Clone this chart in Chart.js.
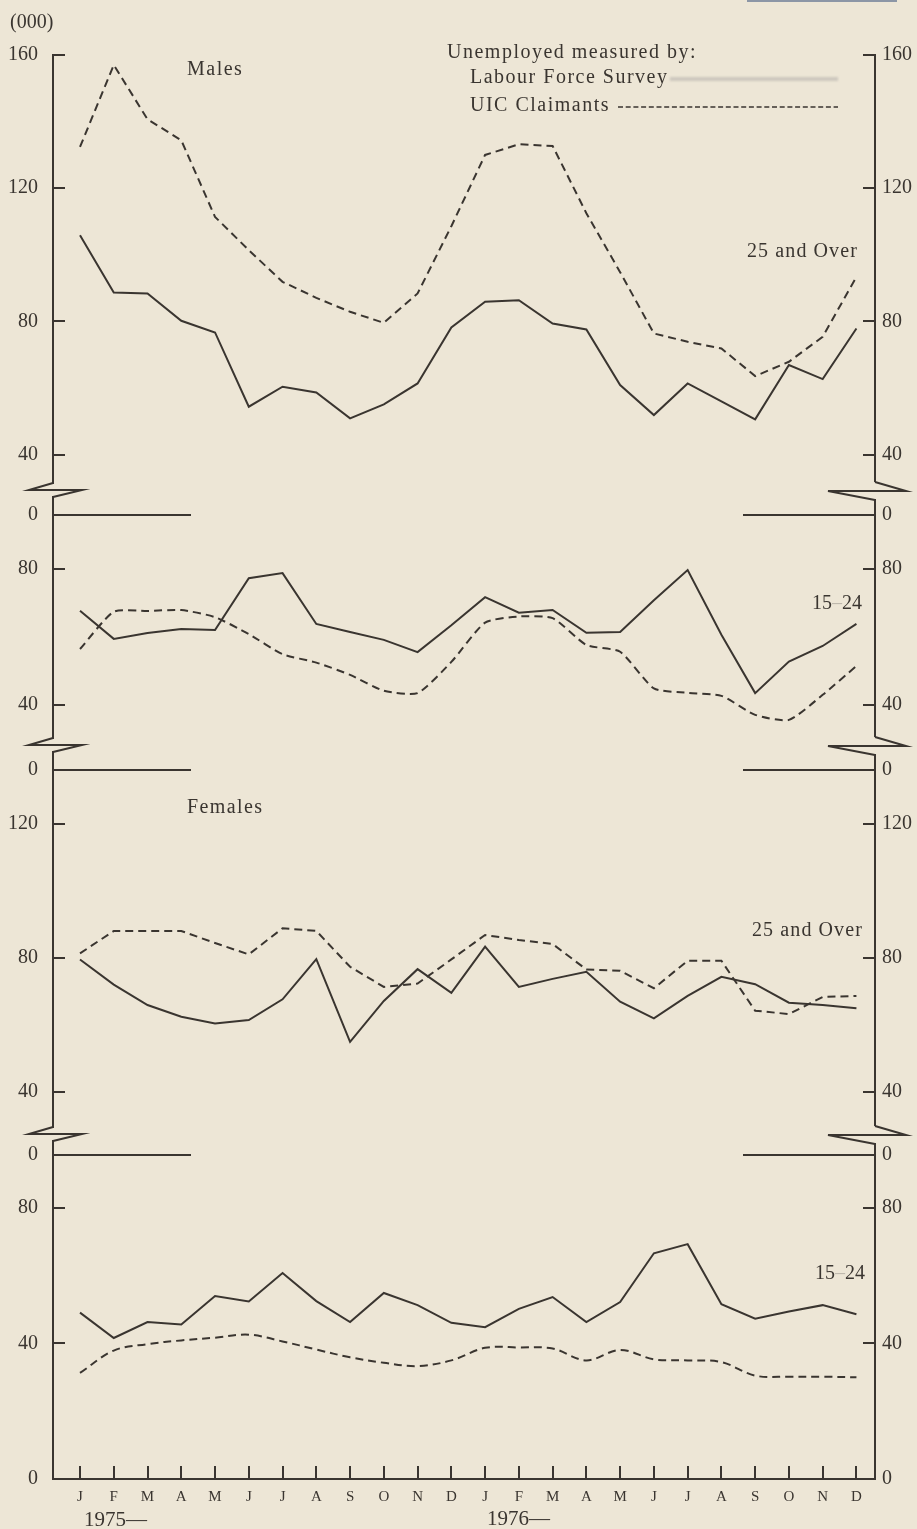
<!DOCTYPE html>
<html><head><meta charset="utf-8">
<script src="https://cdn.jsdelivr.net/npm/chart.js@4.4.1/dist/chart.umd.min.js"></script>
<style>
html,body{margin:0;padding:0;background:#ede6d6;}
#wrap{position:relative;width:917px;height:1529px;overflow:hidden;background:#ede6d6;}
canvas{position:absolute;left:0;top:0;}
.t{position:absolute;font-family:"Liberation Serif","DejaVu Serif",serif;color:#3a3530;font-size:20px;line-height:1;white-space:nowrap;}
</style></head><body>
<div id="wrap">
<canvas id="c" width="917" height="1529"></canvas>
<div style="position:absolute;left:747px;top:0;width:150px;height:2px;background:#8c96a6;"></div>
<div class="t" style="left:10px;top:11px;">(000)</div>
<div class="t" style="left:187px;top:58px;letter-spacing:1.5px;">Males</div>
<div class="t" style="left:447px;top:41px;letter-spacing:1.5px;">Unemployed measured by:</div>
<div class="t" style="left:470px;top:66px;letter-spacing:1.5px;">Labour Force Survey</div>
<div class="t" style="left:470px;top:94px;letter-spacing:1.5px;">UIC Claimants</div>
<div style="position:absolute;left:670px;top:77px;width:168px;height:4px;background:#cdc8be;filter:blur(1px);"></div>
<svg style="position:absolute;left:618px;top:104px;" width="222" height="6"><line x1="0" y1="3" x2="220" y2="3" stroke="#3a3530" stroke-width="1.5" stroke-dasharray="5 2.7"/></svg>
<div class="t" style="left:747px;top:240px;letter-spacing:1.1px;">25 and Over</div>
<div class="t" style="left:812px;top:592px;">15<span style="color:#bdb7ab">–</span>24</div>
<div class="t" style="left:187px;top:796px;letter-spacing:1.4px;">Females</div>
<div class="t" style="left:752px;top:919px;letter-spacing:1.1px;">25 and Over</div>
<div class="t" style="left:815px;top:1262px;">15<span style="color:#bdb7ab">–</span>24</div>
<div class="t" style="left:84px;top:1509px;font-size:21px;">1975—</div>
<div class="t" style="left:487px;top:1508px;font-size:21px;">1976—</div>
</div>
<script>
// Month categories, Jan 1975 – Dec 1976
const months = ['J','F','M','A','M','J','J','A','S','O','N','D','J','F','M','A','M','J','J','A','S','O','N','D'];

// Males 25 and over (thousands)
const males25LFS = [105.9, 88.7, 88.4, 80.2, 76.7, 54.4, 60.4, 58.7, 50.9, 55.1, 61.4, 78.2, 85.9, 86.4, 79.4, 77.6, 60.9, 51.9, 61.4, 56.0, 50.6, 66.9, 62.7, 77.9];
const males25UIC = [132.4, 157.0, 140.7, 134.4, 111.4, 101.4, 91.9, 87.1, 82.9, 79.6, 88.4, 108.6, 130.0, 133.2, 132.7, 112.5, 94.8, 76.4, 73.9, 71.9, 63.6, 67.9, 75.4, 93.4];

// Males 15-24
const males15LFS = [67.7, 59.4, 61.1, 62.3, 62.0, 77.3, 78.8, 63.8, 61.4, 59.1, 55.5, 63.4, 71.7, 67.1, 67.9, 61.2, 61.4, 70.8, 79.7, 60.6, 43.4, 52.7, 57.3, 63.8];
const males15UIC = [56.4, 67.4, 67.6, 67.9, 65.8, 60.8, 54.9, 52.4, 48.8, 44.1, 43.4, 52.6, 64.2, 66.0, 65.5, 57.6, 55.6, 44.8, 43.5, 42.6, 37.0, 35.5, 42.9, 51.4];

// Females 25 and over
const females25LFS = [79.6, 72.1, 66.0, 62.5, 60.5, 61.5, 67.7, 79.7, 55.0, 67.2, 76.7, 69.6, 83.4, 71.4, 73.8, 75.9, 67.0, 62.0, 68.7, 74.4, 72.2, 66.7, 66.0, 65.0];
const females25UIC = [81.4, 88.1, 88.1, 88.1, 84.5, 81.1, 88.9, 88.1, 77.4, 71.4, 72.4, 79.6, 86.9, 85.4, 84.2, 76.6, 76.2, 71.0, 79.2, 79.2, 64.3, 63.3, 68.4, 68.7];

// Females 15-24
const females15LFS = [49.1, 41.6, 46.3, 45.6, 54.0, 52.4, 60.8, 52.5, 46.3, 54.9, 51.3, 46.1, 44.8, 50.2, 53.7, 46.3, 52.2, 66.6, 69.3, 51.6, 47.3, 49.4, 51.3, 48.6];
const females15UIC = [31.3, 37.9, 39.8, 40.9, 41.7, 42.6, 40.6, 38.2, 35.9, 34.3, 33.3, 35.0, 38.7, 38.8, 38.5, 35.0, 38.1, 35.3, 35.0, 34.5, 30.5, 30.2, 30.2, 30.0];

// Tick labels per panel
const ticksMales25 = [40, 80, 120, 160];
const ticksMales15 = [40, 80];
const ticksFemales25 = [40, 80, 120];
const ticksFemales15 = [0, 40, 80];

const ink = '#3a3530';
const bg = '#ede6d6';
const fontFam = '"Liberation Serif", "DejaVu Serif", serif';

// panel scale windows (value ranges) and relative heights
const panels = [
  {ticks: ticksMales25, min: 29.4, max: 160, h: 435},
  {ticks: ticksMales15, min: 28.1, max: 103.3, h: 255},
  {ticks: ticksFemales25, min: 27.5, max: 143.6, h: 389},
  {ticks: ticksFemales15, min: 0, max: 101.8, h: 345}
];

function yScale(pos, p, idx) {
  const left = pos === 'left';
  return {
    type: 'linear', position: pos, stack: left ? 'L' : 'R', stackWeight: p.h,
    weight: left ? 4 - idx : 0,
    min: p.min, max: p.max,
    afterBuildTicks: s => { s.ticks = p.ticks.map(v => ({value: v})); },
    afterFit: s => { s.width = left ? 53 : 42; },
    grid: {drawOnChartArea: false, drawTicks: true, tickLength: -12, color: ink, lineWidth: 2},
    border: {display: true, color: ink, width: 2},
    ticks: {color: ink, font: {family: fontFam, size: 20}, padding: left ? 27 : 19, autoSkip: false}
  };
}

const scales = {
  x: {
    type: 'linear', position: 'bottom', min: -0.8, max: 23.55,
    afterBuildTicks: s => { s.ticks = months.map((m, i) => ({value: i})); },
    afterFit: s => { s.height = 50; },
    grid: {drawOnChartArea: false, drawTicks: true, tickLength: -13, color: ink, lineWidth: 2},
    border: {display: true, color: ink, width: 2},
    ticks: {color: ink, font: {family: fontFam, size: 15}, padding: 22, autoSkip: false, maxRotation: 0,
      callback: v => months[v]}
  }
};
panels.forEach((p, i) => {
  scales['yL' + (i + 1)] = yScale('left', p, i);
});
panels.forEach((p, i) => {
  scales['yR' + (i + 1)] = yScale('right', p, i);
});

const toPts = arr => arr.map((v, i) => ({x: i, y: v}));
function solid(label, arr, axis) {
  return {label, data: toPts(arr), yAxisID: axis, xAxisID: 'x', borderColor: ink, borderWidth: 2,
    pointRadius: 0, fill: false, tension: 0};
}
function dashed(label, arr, axis, tension) {
  return {label, data: toPts(arr), yAxisID: axis, xAxisID: 'x', borderColor: ink, borderWidth: 2,
    borderDash: [8, 5], pointRadius: 0, fill: false, tension: tension || 0};
}

const breakPlugin = {
  id: 'breaks',
  afterDraw(chart) {
    const ctx = chart.ctx;
    const xl = chart.chartArea.left, xr = chart.chartArea.right;
    const zeroOff = [25, 25, 21];
    ctx.save();
    ['yL1', 'yL2', 'yL3'].forEach((id, i) => {
      const b = chart.scales[id].bottom;
      ctx.fillStyle = bg;
      ctx.fillRect(xl - 3, b - 6, 6, 12);
      ctx.fillRect(xr - 3, b - 8, 6, 17);
      ctx.strokeStyle = ink; ctx.lineWidth = 2; ctx.lineJoin = 'miter';
      ctx.beginPath();
      ctx.moveTo(xl, b - 7); ctx.lineTo(xl - 24, b); ctx.lineTo(xl + 29, b); ctx.lineTo(xl, b + 7);
      ctx.stroke();
      ctx.beginPath();
      ctx.moveTo(xr, b - 8); ctx.lineTo(xr + 31, b + 1); ctx.lineTo(xr - 47, b + 1); ctx.lineTo(xr, b + 10);
      ctx.stroke();
      const z = b + zeroOff[i];
      ctx.beginPath();
      ctx.moveTo(xl, z); ctx.lineTo(xl + 138, z);
      ctx.moveTo(xr - 132, z); ctx.lineTo(xr, z);
      ctx.stroke();
      ctx.fillStyle = ink; ctx.font = '20px ' + fontFam; ctx.textBaseline = 'middle';
      ctx.textAlign = 'right'; ctx.fillText('0', xl - 15, z);
      ctx.textAlign = 'left'; ctx.fillText('0', xr + 7, z);
    });
    ctx.restore();
  }
};

new Chart(document.getElementById('c'), {
  type: 'line',
  data: {
    datasets: [
      solid('Males 25 and Over – Labour Force Survey', males25LFS, 'yL1'),
      dashed('Males 25 and Over – UIC Claimants', males25UIC, 'yL1'),
      solid('Males 15–24 – Labour Force Survey', males15LFS, 'yL2'),
      dashed('Males 15–24 – UIC Claimants', males15UIC, 'yL2', 0.2),
      solid('Females 25 and Over – Labour Force Survey', females25LFS, 'yL3'),
      dashed('Females 25 and Over – UIC Claimants', females25UIC, 'yL3'),
      solid('Females 15–24 – Labour Force Survey', females15LFS, 'yL4'),
      dashed('Females 15–24 – UIC Claimants', females15UIC, 'yL4', 0.35)
    ]
  },
  options: {
    responsive: false, devicePixelRatio: 1, animation: false,
    layout: {padding: {top: 55, left: 0, right: 0, bottom: 0}},
    plugins: {legend: {display: false}, tooltip: {enabled: false}},
    scales
  },
  plugins: [breakPlugin]
});
</script>
</body></html>
